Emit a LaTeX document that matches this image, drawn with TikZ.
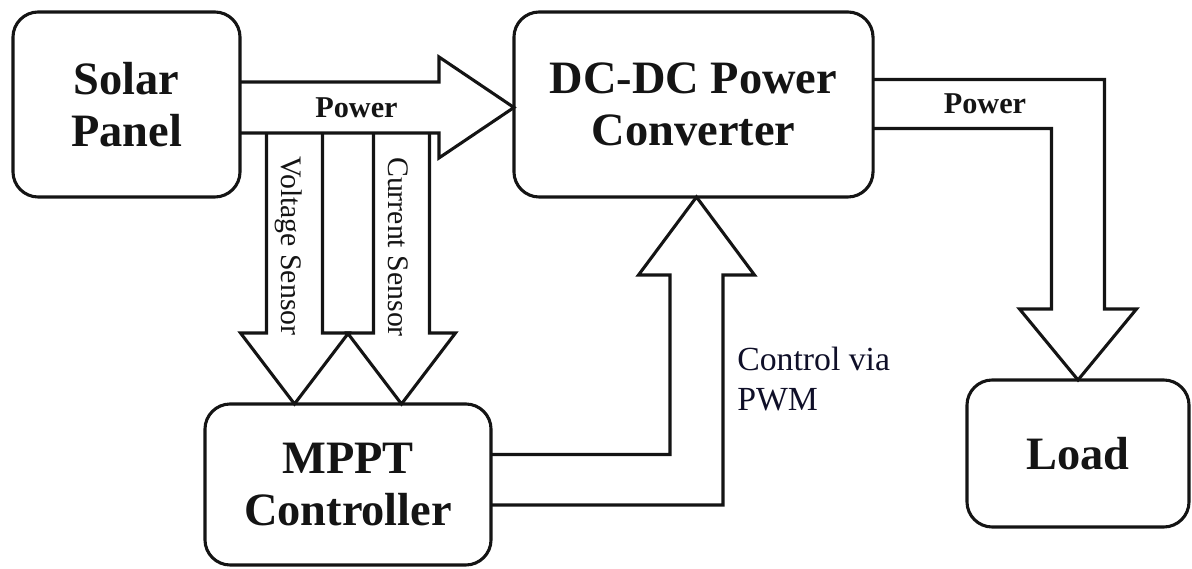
\documentclass[tikz,border=0pt]{standalone}
\usepackage{fontspec}
\setmainfont{LiberationSerif}[Extension=.ttf, UprightFont=*-Regular, BoldFont=*-Bold, ItalicFont=*-Italic, BoldItalicFont=*-BoldItalic]
\usepackage{tikz}
\usetikzlibrary{calc, positioning}
\definecolor{inkblack}{RGB}{20, 20, 20}
\definecolor{pwmnavy}{RGB}{15, 15, 40}
\tikzset{
  blockbox/.style={rectangle, draw=inkblack, line width=2.2pt, rounded corners=18pt, outer sep=0pt, align=center, text=inkblack, font=\fontsize{33}{37.5}\selectfont\bfseries},
  blockarrow/.style={draw=inkblack, line width=2.2pt, line join=miter},
  flowlabel/.style={inner sep=0pt, text=inkblack, font=\fontsize{21.5}{24}\selectfont\bfseries},
  sensorlabel/.style={inner sep=0pt, rotate=-90, text=inkblack, font=\fontsize{21.2}{24}\selectfont},
  pwmlabel/.style={inner sep=0pt, anchor=west, align=left, text=pwmnavy, font=\fontsize{24}{28.3}\selectfont}
}

\begin{document}
\begin{tikzpicture}[x=0.025cm, y=-0.025cm]
    \useasboundingbox (0,0) rectangle (1192,569);

    % Blocks
    \node[blockbox, minimum width=5.675cm, minimum height=4.625cm] (solar) at (126.5,104.5) {Solar\\Panel};
    \node[blockbox, minimum width=8.975cm, minimum height=4.625cm] (dcdc) at (693.5,104.5) {DC-DC Power\\Converter};
    \node[blockbox, minimum width=7.15cm, minimum height=4.025cm] (mppt) at (348,484.5) {MPPT\\Controller};
    \node[blockbox, minimum width=5.55cm, minimum height=3.675cm] (load) at (1078,453.5) {Load};

    % Arrow tips on the blocks
    \coordinate (vtip) at ($(mppt.north)+(-53.5,0)$);
    \coordinate (itip) at ($(mppt.north)+(53.5,0)$);
    \coordinate (ctip) at ($(dcdc.south)+(3,0)$);
    \coordinate (ltip) at (load.north);

    % Power: panel -> converter
    \draw[blockarrow] ($(solar.east)+(0,-22.5)$) -- ++(199,0) -- ++(0,-25) -- ($(dcdc.west)+(0,3)$) -- ++(-75,50.5) -- ++(0,-25) -- ($(solar.east)+(0,28.5)$);
    \node[flowlabel] (powerin) at (356.5,107.5) {Power};

    % Sensors -> MPPT
    \draw[blockarrow] ($(vtip)+(-28,-271)$) -- ++(0,200) -- ++(-26,0) -- (vtip) -- ++(54,-71) -- ++(-26,0) -- ++(0,-200);
    \draw[blockarrow] ($(itip)+(-28,-271)$) -- ++(0,200) -- ++(-26,0) -- (itip) -- ++(54,-71) -- ++(-26,0) -- ++(0,-200);
    \node[sensorlabel] (vsense) at (289,246) {Voltage Sensor};
    \node[sensorlabel] (isense) at (398,247) {Current Sensor};

    % Control: MPPT -> converter
    \draw[blockarrow] ($(mppt.east)+(0,-30)$) -| ($(ctip)+(-26.5,78)$) -- ++(-31.5,0) -- (ctip) -- ++(58,78) -- ++(-31.5,0) |- ($(mppt.east)+(0,20.5)$);
    \node[pwmlabel] (pwm) at (737,379) {Control via\\PWM};

    % Power: converter -> load
    \draw[blockarrow] ($(dcdc.east)+(0,-25)$) -| ($(ltip)+(26.5,-71)$) -- ++(32,0) -- (ltip) -- ++(-58.5,-71) -- ++(32,0) |- ($(dcdc.east)+(0,24)$);
    \node[flowlabel] (powerout) at (985,104) {Power};
\end{tikzpicture}
\end{document}
